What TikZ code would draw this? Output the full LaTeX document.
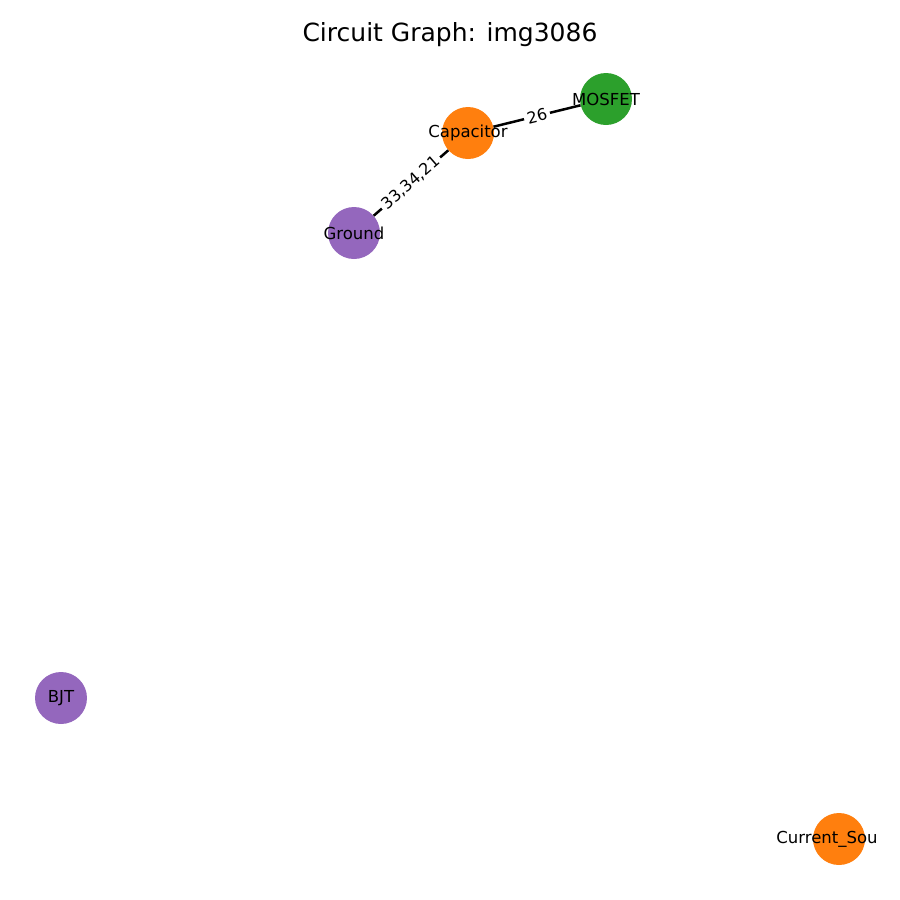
\documentclass[tikz,border=0pt]{standalone}
\usepackage{fontspec}
\setmainfont{DejaVu Sans}
\usepackage{tikz}
\usetikzlibrary{calc}
\definecolor{nxorange}{HTML}{FF7F0E}
\definecolor{nxgreen}{HTML}{2CA02C}
\definecolor{nxpurple}{HTML}{9467BD}
\begin{document}
\begin{tikzpicture}[x=1pt,y=-1pt,
    comp/.style={circle,fill=#1,minimum size=52pt,inner sep=0pt,
        label={[font=\compfont]center:\nodename}},
    wire/.style={line width=2.5pt},
    wirelabel/.style={midway,sloped,fill=white,inner sep=3pt,
        font=\fontsize{16}{19}\selectfont}]
            \def\compfont{\fontsize{16.5}{19}\selectfont}
            \useasboundingbox (0,0) rectangle (900,900);
            \node[font=\fontsize{25}{30}\selectfont] (title) at (450,35) {Circuit Graph: img3086};
            \def\nodename{Capacitor}
            \node[comp=nxorange] (cap) at (468,133) {};
            \def\nodename{MOSFET}
            \node[comp=nxgreen] (mos) at (606,99) {};
            \def\nodename{Ground}
            \node[comp=nxpurple] (gnd) at (354,233) {};
            \def\nodename{BJT}
            \node[comp=nxpurple] (bjt) at (61,698) {};
            \def\nodename{}
            \node[comp=nxorange] (isrc) at (839,839) {};
            \node[font=\compfont] (isrctext) at ($(isrc)+(-12,0)$) {Current\_Sou};
            \draw[wire] (cap) -- (mos) node[wirelabel] {26};
            \draw[wire] (gnd) -- (cap) node[wirelabel] {33,34,21};
        \end{tikzpicture}
\end{document}
